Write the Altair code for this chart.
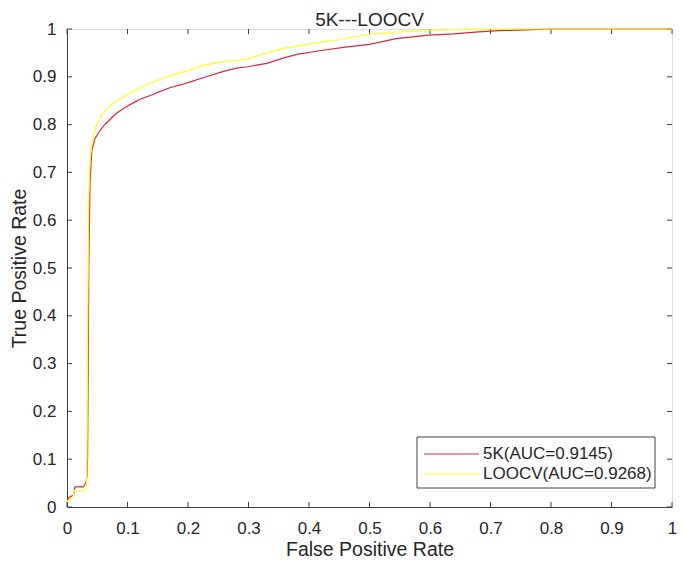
import altair as alt
import pandas as pd

# ---- data ----
fpr_5k = [0, 0.003, 0.011, 0.013, 0.027, 0.031, 0.033, 0.034, 0.035, 0.036, 0.038, 0.041,
          0.046, 0.052, 0.06, 0.069, 0.08, 0.096, 0.11, 0.123, 0.14, 0.151, 0.17, 0.19,
          0.205, 0.23, 0.26, 0.28, 0.298, 0.33, 0.36, 0.38, 0.42, 0.46, 0.5, 0.544,
          0.598, 0.64, 0.68, 0.72, 0.76, 0.8, 0.9, 1.0]
tpr_5k = [0.01, 0.02, 0.025, 0.042, 0.042, 0.05, 0.065, 0.1, 0.3, 0.5, 0.68, 0.745,
          0.77, 0.783, 0.797, 0.808, 0.822, 0.836, 0.846, 0.854, 0.862, 0.868, 0.877, 0.884,
          0.89, 0.9, 0.912, 0.918, 0.921, 0.928, 0.94, 0.947, 0.955, 0.962, 0.968, 0.98,
          0.987, 0.99, 0.994, 0.997, 0.998, 1.0, 1.0, 1.0]

fpr_loocv = [0, 0.003, 0.01, 0.012, 0.03, 0.032, 0.033, 0.034, 0.036, 0.038, 0.041, 0.047,
             0.058, 0.074, 0.096, 0.115, 0.134, 0.155, 0.178, 0.2, 0.222, 0.245, 0.27,
             0.298, 0.33, 0.36, 0.397, 0.45, 0.5, 0.55, 0.598, 0.65, 0.7, 0.8, 1.0]
tpr_loocv = [0.01, 0.015, 0.02, 0.035, 0.035, 0.04, 0.1, 0.35, 0.655, 0.72, 0.76, 0.794,
             0.822, 0.843, 0.86, 0.873, 0.885, 0.895, 0.905, 0.913, 0.923, 0.929, 0.933,
             0.937, 0.95, 0.96, 0.968, 0.978, 0.989, 0.994, 0.997, 0.999, 1.0, 1.0, 1.0]

series_names = ["5K(AUC=0.9145)", "LOOCV(AUC=0.9268)"]
series_colors = ["#d42a3c", "#ffff1a"]
tick_values = [0, 0.1, 0.2, 0.3, 0.4, 0.5, 0.6, 0.7, 0.8, 0.9, 1.0]
title_text = "5K---LOOCV"
x_title = "False Positive Rate"
y_title = "True Positive Rate"

W, H = 605, 478
FONT = "Liberation Sans"
TXT = "#262626"
AX = "#404040"

df_5k = pd.DataFrame({"x": fpr_5k, "y": tpr_5k, "i": range(len(fpr_5k)), "s": series_names[0]})
df_lo = pd.DataFrame({"x": fpr_loocv, "y": tpr_loocv, "i": range(len(fpr_loocv)), "s": series_names[1]})
ticks = pd.DataFrame({"t": tick_values})
one = pd.DataFrame({"k": [0]})

xs = alt.Scale(domain=[0, 1], nice=False, zero=False)
ys = alt.Scale(domain=[0, 1], nice=False, zero=False)
cs = alt.Scale(domain=series_names, range=series_colors)

xaxis = alt.Axis(values=tick_values, format="~g", ticks=False, grid=False, labelPadding=13,
                 labelFontSize=17, titleFontSize=19.5, titlePadding=4, labelFont=FONT,
                 titleFont=FONT, labelColor=TXT, titleColor=TXT, titleFontWeight="normal",
                 domainColor=AX, labelFlush=False)
yaxis = alt.Axis(values=tick_values, format="~g", ticks=False, grid=False, labelPadding=11,
                 labelFontSize=17, titleFontSize=19.5, titlePadding=3, labelFont=FONT,
                 titleFont=FONT, labelColor=TXT, titleColor=TXT, titleFontWeight="normal",
                 domainColor=AX, labelFlush=False)

l1 = alt.Chart(df_5k).mark_line(strokeWidth=1.2).encode(
    x=alt.X("x:Q", scale=xs, axis=xaxis, title=x_title),
    y=alt.Y("y:Q", scale=ys, axis=yaxis, title=y_title),
    order="i:Q",
    color=alt.Color("s:N", scale=cs, legend=None),
)
l2 = alt.Chart(df_lo).mark_line(strokeWidth=1.2).encode(
    x=alt.X("x:Q", scale=xs),
    y=alt.Y("y:Q", scale=ys),
    order="i:Q",
    color=alt.Color("s:N", scale=cs, legend=None),
)

tb = alt.Chart(ticks).mark_rule(color=AX, strokeWidth=1).encode(
    x=alt.X("t:Q", scale=xs), y=alt.value(H), y2=alt.value(H - 5))
tt = alt.Chart(ticks).mark_rule(color=AX, strokeWidth=1).encode(
    x=alt.X("t:Q", scale=xs), y=alt.value(0), y2=alt.value(5))
tl = alt.Chart(ticks).mark_rule(color=AX, strokeWidth=1).encode(
    y=alt.Y("t:Q", scale=ys), x=alt.value(0), x2=alt.value(5))
tr = alt.Chart(ticks).mark_rule(color=AX, strokeWidth=1).encode(
    y=alt.Y("t:Q", scale=ys), x=alt.value(W), x2=alt.value(W - 5))

# chart title as text above the plot
ttl = alt.Chart(one).mark_text(
    text=title_text, align="center", baseline="alphabetic", fontSize=19, font=FONT,
    color=TXT).encode(x=alt.value(W / 2), y=alt.value(-3))

# manual MATLAB-style legend box
LX0, LX1, LY0, LY1 = 350, 588, 408, 459
box = alt.Chart(one).mark_rect(fill="white", stroke=AX, strokeWidth=1).encode(
    x=alt.value(LX0), x2=alt.value(LX1), y=alt.value(LY0), y2=alt.value(LY1))
leg_layers = [box]
for k, (name, col) in enumerate(zip(series_names, series_colors)):
    yy = LY0 + 17 + k * 20
    leg_layers.append(alt.Chart(one).mark_rule(color=col, strokeWidth=1.2).encode(
        x=alt.value(LX0 + 7), x2=alt.value(LX0 + 62), y=alt.value(yy)))
    leg_layers.append(alt.Chart(one).mark_text(
        text=name, align="left", baseline="middle", fontSize=17, font=FONT, color=TXT).encode(
        x=alt.value(LX0 + 66), y=alt.value(yy)))

chart = alt.layer(tb, tt, tl, tr, l1, l2, ttl, *leg_layers).properties(
    width=W, height=H,
    autosize=alt.AutoSizeParams(type="none"),
    padding={"left": 59, "top": 21, "right": 5, "bottom": 53},
).configure_view(stroke=AX, strokeWidth=1).configure(background="white")

chart.save("out.html", embed_options={"renderer": "svg", "actions": False})
